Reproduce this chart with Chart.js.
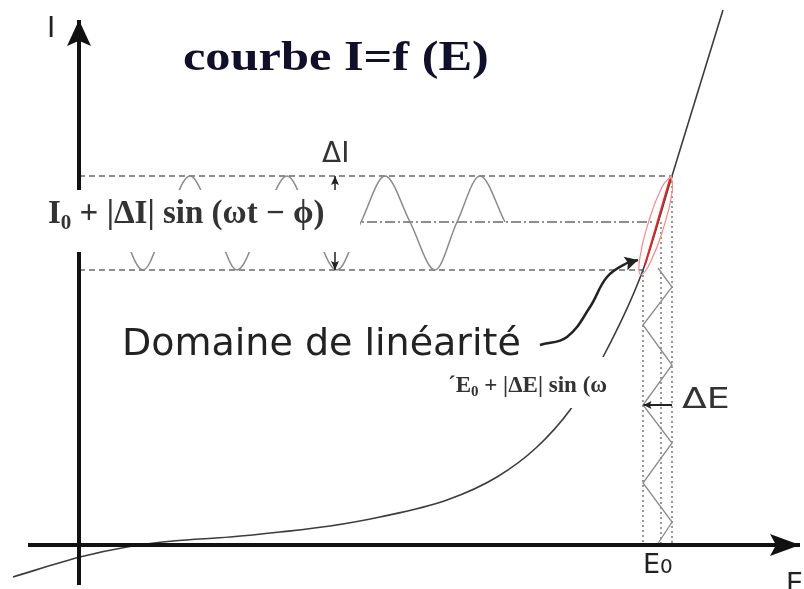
<!DOCTYPE html>
<html>
<head>
<meta charset="utf-8">
<script src="https://cdn.jsdelivr.net/npm/chart.js@4.4.0/dist/chart.umd.min.js"></script>
<style>
  html, body { margin: 0; padding: 0; background: #fff; }
  #wrap { width: 804px; height: 589px; }
</style>
</head>
<body>
<div id="wrap"><canvas id="courbe"></canvas></div>
<script>
// I = f(E) characteristic (arbitrary units, origin where the axes cross)
const curveE = [-0.66, 0.01, 0.48, 0.94, 1.51, 2.01, 2.51, 3.01, 3.68, 4.18, 4.58, 4.91, 5.24, 5.64, 5.93, 6.44];
const curveI = [-0.32, -0.12, -0.02, 0.04, 0.08, 0.13, 0.19, 0.28, 0.45, 0.68, 0.98, 1.35, 1.88, 2.75, 3.69, 5.35];

// operating point and the excursion around it
const E0 = 5.82, Eleft = 5.64, Eright = 5.93;
const I0 = 3.23, Ilow = 2.75, Ihigh = 3.69;

// current response I0 + |dI| sin(wt - phi): zero crossings, troughs, peaks
const sineT = [0.40, 0.64, 0.87, 1.11, 1.35, 1.58, 1.83, 2.08, 2.32, 2.58, 2.82, 3.06, 3.31, 3.56, 3.78, 4.01, 4.26];
const sineI = [3.23, 2.75, 3.23, 3.69, 3.23, 2.75, 3.23, 3.69, 3.23, 2.75, 3.23, 3.69, 3.23, 2.75, 3.23, 3.69, 3.23];

// potential perturbation, time running downwards
const triE = [5.79, 5.93, 5.64, 5.93, 5.64, 5.93, 5.64, 5.93, 5.78];
const triT = [2.77, 2.58, 2.20, 1.80, 1.40, 1.02, 0.62, 0.23, 0.00];

// linear domain outline
const ellE = [5.923, 5.932, 5.846, 5.716, 5.617, 5.608, 5.694, 5.824, 5.923];
const ellI = [3.697, 3.534, 3.176, 2.832, 2.703, 2.866, 3.224, 3.568, 3.697];

// pointer from the "Domaine de linéarité" label
const ptrE = [4.61, 4.88, 5.11, 5.28, 5.48, 5.59];
const ptrI = [2.00, 2.08, 2.38, 2.68, 2.82, 2.85];

const pts = (xs, ys) => xs.map((x, i) => ({ x, y: ys[i] }));

// white backgrounds behind the formulas
const boxes = [
  { x1: -0.67, y1: 3.55, x2: 2.81, y2: 2.93 },
  { x1: 3.54, y1: 1.88, x2: 5.41, y2: 1.37 }
];

const SERIF = '"Liberation Serif", "Times New Roman", serif';
const SANS = '"DejaVu Sans", sans-serif';

const labels = [
  { x: 1.04, y: 4.75, sx: 1.2, color: '#10102a', runs: [{ t: 'courbe I=f (E)', f: 'bold 42px ' + SERIF }] },
  { x: -0.32, y: 5.08, color: '#222', runs: [{ t: 'I', f: '28px ' + SANS }] },
  { x: 2.43, y: 3.83, color: '#333', runs: [{ t: '\u0394I', f: '28px ' + SANS }] },
  { x: -0.31, y: 3.22, color: '#333', runs: [
    { t: 'I', f: 'bold 33px ' + SERIF },
    { t: '0', f: 'bold 21px ' + SERIF, dy: 6 },
    { t: ' + |\u0394I| sin (\u03c9t \u2212 \u03d5)', f: 'bold 33px ' + SERIF }
  ] },
  { x: 0.43, y: 1.90, color: '#222', runs: [{ t: 'Domaine de linéarité', f: '38px ' + SANS }] },
  { x: 3.69, y: 1.53, color: '#333', runs: [
    { t: '\u00b4E', f: 'bold 23px ' + SERIF },
    { t: '0', f: 'bold 15px ' + SERIF, dy: 4 },
    { t: ' + |\u0394E| sin (\u03c9', f: 'bold 23px ' + SERIF }
  ] },
  { x: 6.03, y: 1.37, sx: 1.25, color: '#333', runs: [{ t: '\u0394E', f: '29px ' + SANS }] },
  { x: 5.64, y: -0.28, color: '#222', runs: [
    { t: 'E', f: '27px ' + SANS },
    { t: '0', f: '20px ' + SANS }
  ] },
  { x: 7.07, y: -0.47, color: '#222', runs: [{ t: 'E', f: '27px ' + SANS }] }
];

function drawHead(ctx, from, to, head, color) {
  const a = Math.atan2(to.y - from.y, to.x - from.x);
  const c = Math.cos(a), s = Math.sin(a);
  const bx = to.x - head.len * c, by = to.y - head.len * s;
  ctx.beginPath();
  ctx.moveTo(to.x, to.y);
  ctx.lineTo(bx - head.half * s, by + head.half * c);
  ctx.lineTo(to.x - head.len * 0.8 * c, to.y - head.len * 0.8 * s);
  ctx.lineTo(bx + head.half * s, by - head.half * c);
  ctx.closePath();
  ctx.fillStyle = color;
  ctx.fill();
}

const schema = {
  id: 'schema',
  beforeDraw(chart) {
    const ctx = chart.ctx;
    ctx.save();
    ctx.fillStyle = '#fff';
    ctx.fillRect(0, 0, chart.width, chart.height);
    ctx.restore();
  },
  afterDatasetsDraw(chart) {
    const ctx = chart.ctx;
    const xs = chart.scales.x, ys = chart.scales.y;
    ctx.save();

    // arrow heads
    chart.data.datasets.forEach((ds, i) => {
      const p = chart.getDatasetMeta(i).data;
      if (ds.arrowEnd) drawHead(ctx, p[p.length - 2], p[p.length - 1], ds.arrowEnd, ds.borderColor);
      if (ds.arrowStart) drawHead(ctx, p[1], p[0], ds.arrowStart, ds.borderColor);
    });

    ctx.fillStyle = '#fff';
    boxes.forEach(b => {
      const x1 = xs.getPixelForValue(b.x1), x2 = xs.getPixelForValue(b.x2);
      const y1 = ys.getPixelForValue(b.y1), y2 = ys.getPixelForValue(b.y2);
      ctx.fillRect(x1, y1, x2 - x1, y2 - y1);
    });

    ctx.textBaseline = 'alphabetic';
    ctx.textAlign = 'left';
    labels.forEach(l => {
      ctx.save();
      ctx.translate(xs.getPixelForValue(l.x), ys.getPixelForValue(l.y));
      ctx.scale(l.sx || 1, 1);
      ctx.fillStyle = l.color;
      let cx = 0;
      l.runs.forEach(r => {
        ctx.font = r.f;
        ctx.fillText(r.t, cx, r.dy || 0);
        cx += ctx.measureText(r.t).width;
      });
      ctx.restore();
    });
    ctx.restore();
  }
};

const line = (data, color, width, extra) => Object.assign({
  data, borderColor: color, borderWidth: width, showLine: true,
  pointRadius: 0, fill: false, tension: 0
}, extra || {});

// first dataset is painted last (on top)
const datasets = [
  line([{ x: 0, y: -0.40 }, { x: 0, y: 5.25 }], '#111', 4, { arrowEnd: { len: 26, half: 12 } }),
  line([{ x: -0.51, y: 0 }, { x: 7.21, y: 0 }], '#111', 4, { arrowEnd: { len: 30, half: 11 } }),
  line(pts(ptrE, ptrI), '#222', 2.5, { tension: 0.4, arrowEnd: { len: 13, half: 7 } }),
  line([{ x: 2.56, y: Ihigh }, { x: 2.56, y: Ilow }], '#222', 1.5,
    { arrowStart: { len: 9, half: 4 }, arrowEnd: { len: 9, half: 4 } }),
  line([{ x: Eright, y: 1.40 }, { x: 5.645, y: 1.40 }], '#222', 2, { arrowEnd: { len: 8, half: 4 } }),
  line([{ x: 5.66, y: 2.80 }, { x: 5.91, y: 3.66 }], '#e02a2a', 2),
  line(pts(ellE, ellI), '#f08a8a', 1.2, { tension: 0.5 }),
  line(pts(curveE, curveI), '#3c3c3c', 1.6, { cubicInterpolationMode: 'monotone' }),
  line(pts(sineT, sineI), '#8a8a8a', 1.5, { cubicInterpolationMode: 'monotone' }),
  line(pts(triE, triT), '#8a8a8a', 1.3),
  line([{ x: 0, y: Ihigh }, { x: Eright, y: Ihigh }], '#6a6a6a', 1.5, { borderDash: [6, 4] }),
  line([{ x: 0, y: Ilow }, { x: Eleft, y: Ilow }], '#6a6a6a', 1.5, { borderDash: [6, 4] }),
  line([{ x: 0, y: I0 }, { x: 5.76, y: I0 }], '#6a6a6a', 1.5, { borderDash: [10, 3, 2, 3] }),
  line([{ x: Eleft, y: Ilow }, { x: Eleft, y: 0 }], '#777', 1.5, { borderDash: [2, 3] }),
  line([{ x: E0, y: I0 }, { x: E0, y: 0 }], '#777', 1.5, { borderDash: [2, 3] }),
  line([{ x: Eright, y: Ihigh }, { x: Eright, y: 0 }], '#777', 1.5, { borderDash: [2, 3] })
];

new Chart(document.getElementById('courbe'), {
  type: 'scatter',
  data: { datasets },
  options: {
    responsive: true,
    maintainAspectRatio: false,
    animation: false,
    layout: { padding: 0 },
    plugins: { legend: { display: false }, tooltip: { enabled: false } },
    scales: {
      x: { type: 'linear', min: -0.79, max: 7.25, display: false },
      y: { type: 'linear', min: -0.44, max: 5.45, display: false }
    }
  },
  plugins: [schema]
});
</script>
</body>
</html>
